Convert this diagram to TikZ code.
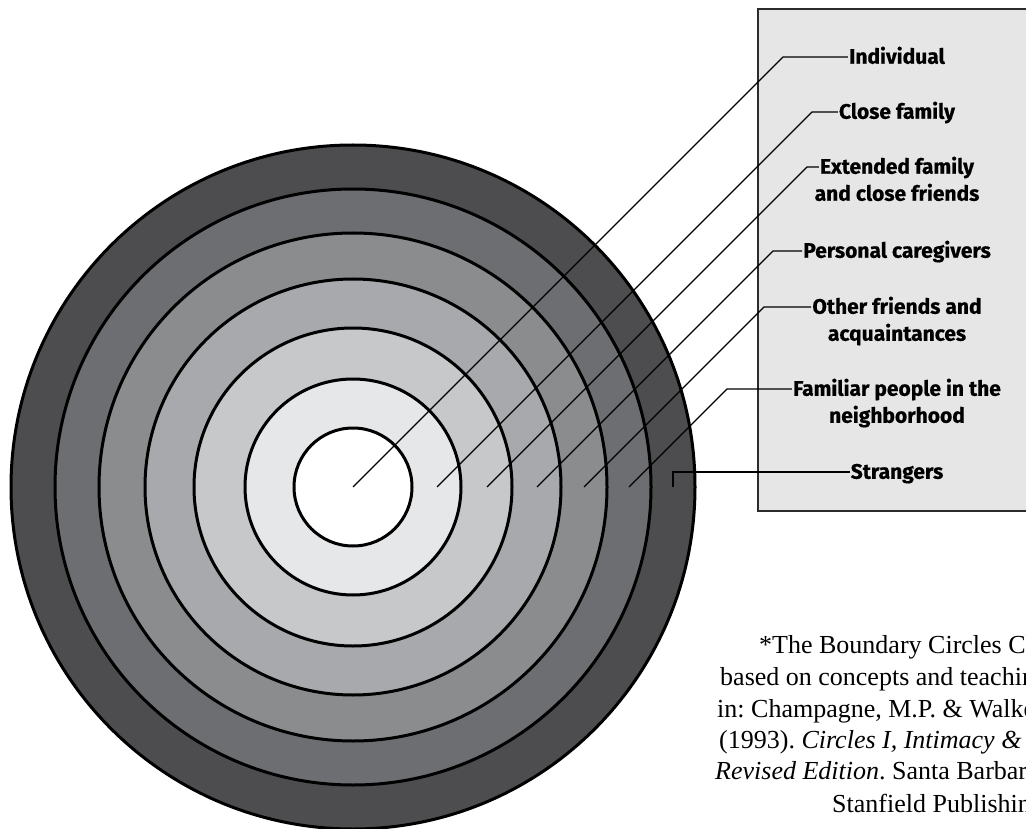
\documentclass[tikz,border=0pt]{standalone}
\usepackage{fontspec}
\newfontfamily\labelfont{Fira Sans}[BoldFeatures={FakeBold=0.6}]
\newfontfamily\notefont{Liberation Serif}
\definecolor{ringA}{HTML}{FFFFFF}
\definecolor{ringB}{HTML}{E6E7E8}
\definecolor{ringC}{HTML}{C7C8CA}
\definecolor{ringD}{HTML}{A7A9AC}
\definecolor{ringE}{HTML}{8A8C8E}
\definecolor{ringF}{HTML}{6D6E71}
\definecolor{ringG}{HTML}{4D4D4F}
\definecolor{boxFill}{HTML}{E6E6E6}
\definecolor{boxLine}{HTML}{2B2B2B}

\begin{document}
\begin{tikzpicture}
[x=1pt, y=-1pt,
 ringDisk/.style={draw=black, line width=3pt},
 leadLine/.style={draw=black, line width=1.3pt},
 labelText/.style={font=\labelfont\bfseries\fontsize{21}{25}\selectfont,
   inner sep=1pt, text height=13.5pt, text depth=0pt},
 noteText/.style={font=\notefont\fontsize{26}{32}\selectfont\frenchspacing,
   anchor=base west, inner sep=0pt}
]
\useasboundingbox (0,0) rectangle (1026,829);
\draw[fill=boxFill, draw=boxLine, line width=2pt] (758,9) rectangle (1040,511);
% the circles
\coordinate (ctr) at (353,487);
\draw[ringDisk, fill=ringG] (ctr) circle [radius=342pt];
\draw[ringDisk, fill=ringF] (ctr) circle [radius=298pt];
\draw[ringDisk, fill=ringE] (ctr) circle [radius=254pt];
\draw[ringDisk, fill=ringD] (ctr) circle [radius=208pt];
\draw[ringDisk, fill=ringC] (ctr) circle [radius=159pt];
\draw[ringDisk, fill=ringB] (ctr) circle [radius=108pt];
\draw[ringDisk, fill=ringA] (ctr) circle [radius=59pt];
% labels
\node[labelText] (L1)  at (897, 57)  {Individual};
\node[labelText] (L2)  at (897,112)  {Close family};
\node[labelText] (L3)  at (897,167)  {Extended family};
\node[labelText] (L3b) at (897,194)  {and close friends};
\node[labelText] (L4)  at (897,251)  {Personal caregivers};
\node[labelText] (L5)  at (897,307)  {Other friends and};
\node[labelText] (L5b) at (897,334)  {acquaintances};
\node[labelText] (L6)  at (897,389)  {Familiar people in the};
\node[labelText] (L6b) at (897,416)  {neighborhood};
\node[labelText] (L7)  at (897,472)  {Strangers};
% leader lines
\coordinate (s1) at (353,487);
\coordinate (s2) at (437,487);
\coordinate (s3) at (487,487);
\coordinate (s4) at (537,487);
\coordinate (s5) at (584,487);
\coordinate (s6) at (629,487);
\coordinate (s7) at (673,487);
\draw[leadLine] (s1) -- ++(430,-430) -- (L1.west);
\draw[leadLine] (s2) -- ++(375,-375) -- (L2.west);
\draw[leadLine] (s3) -- ++(320,-320) -- (L3.west);
\draw[leadLine] (s4) -- ++(236,-236) -- (L4.west);
\draw[leadLine] (s5) -- ++(180,-180) -- (L5.west);
\draw[leadLine] (s6) -- ++(98,-98) -- (L6.west);
\draw[leadLine] (s7) -- (s7 |- L7.west) -- (L7.west);
% note
\node[noteText] (n1) at (759,653) {*The Boundary Circles Chart};
\node[noteText] (n2) at (720,685) {based on concepts and teachings};
\node[noteText] (n3) at (717,717) {in: Champagne, M.P. \& Walker};
\node[noteText] (n4) at (719,748) {(1993). \textit{Circles I, Intimacy \& Relationships}};
\node[noteText] (n5) at (715,779) {\textit{Revised Edition}. Santa Barbara};
\node[noteText] (n6) at (832,812) {Stanfield Publishing};
\end{tikzpicture}
\end{document}
